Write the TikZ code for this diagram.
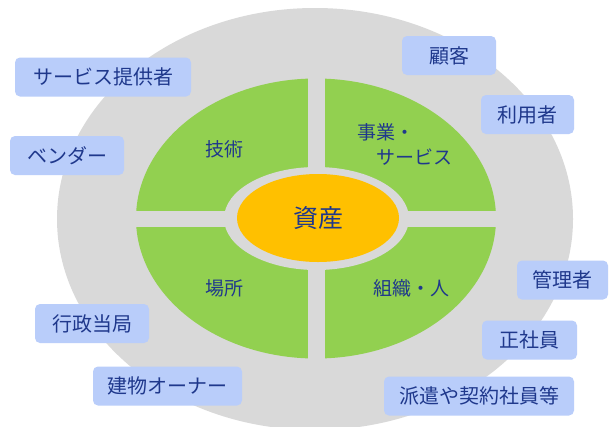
\documentclass[tikz,border=0pt]{standalone}
\usepackage{fontspec}
\setmainfont{Noto Sans CJK JP}
\usetikzlibrary{shapes.geometric}
\definecolor{bggrey}{RGB}{217,217,217}
\definecolor{leaf}{RGB}{146,208,80}
\definecolor{gold}{RGB}{255,192,0}
\definecolor{boxblue}{RGB}{185,205,250}
\definecolor{ink}{RGB}{31,56,140}
\begin{document}
\begin{tikzpicture}[x=1pt,y=-1pt,
  tag/.style={fill=boxblue, rounded corners=5pt, text=ink,
    font=\fontsize{20}{24}\selectfont, inner sep=0pt, minimum height=39pt},
  quad/.style={text=ink, font=\fontsize{19}{25}\selectfont, inner sep=0pt},
  core/.style={ellipse, fill=gold, text=ink, font=\fontsize{25}{30}\selectfont,
    inner sep=0pt, minimum width=162pt, minimum height=88pt}]
\clip (0,0) rectangle (609,426);
\fill[white] (0,0) rectangle (609,426);
% rings
\fill[bggrey] (315,219) ellipse [x radius=258, y radius=211];
\fill[leaf] (316,218.5) ellipse [x radius=180, y radius=140];
\fill[bggrey] (307.5,70) rectangle (324.5,370);
\fill[bggrey] (125,210.5) rectangle (505,227);
\fill[bggrey] (316.5,218.5) ellipse [x radius=92.5, y radius=51.5];
\node[core] (asset) at (318,218) {資産};
% quadrant labels
\node[quad] (tech) at (224,149) {技術};
\node[quad, align=left] (biz) at (405,144) {事業・\\\hspace*{1em}サービス};
\node[quad] (place) at (224,288) {場所};
\node[quad] (org) at (411,288) {組織・人};
% stakeholder boxes
\node[tag, minimum width=176pt] (prov) at (103,77) {サービス提供者};
\node[tag, minimum width=114pt] (vendor) at (67,155.5) {ベンダー};
\node[tag, minimum width=94pt] (cust) at (449,55.5) {顧客};
\node[tag, minimum width=93pt] (user) at (527.5,114.5) {利用者};
\node[tag, minimum width=114pt] (gov) at (92,323.5) {行政当局};
\node[tag, minimum width=149pt] (owner) at (167.5,386) {建物オーナー};
\node[tag, minimum width=91pt] (admin) at (562.5,280) {管理者};
\node[tag, minimum width=95pt] (staff) at (529.5,340) {正社員};
\node[tag, minimum width=190pt] (temp) at (479,396) {派遣や契約社員等};
\end{tikzpicture}
\end{document}
